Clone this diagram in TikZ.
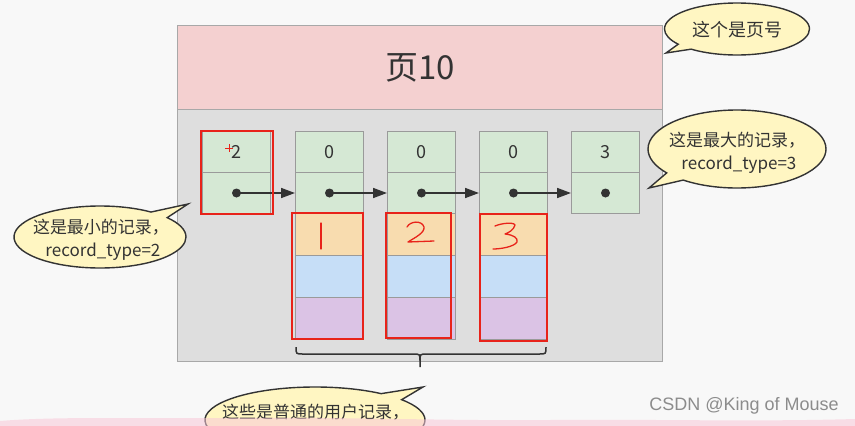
\documentclass[tikz,border=0pt]{standalone}
\usepackage{fontspec}
\setmainfont{Noto Sans CJK SC}
\newfontfamily\wmfont{Liberation Sans}
\usetikzlibrary{shapes.callouts,arrows.meta}
\definecolor{bg}{HTML}{F8F8F8}
\definecolor{hdr}{HTML}{F4D0D0}
\definecolor{body}{HTML}{DEDEDE}
\definecolor{frame}{HTML}{A8A8A8}
\definecolor{cellb}{HTML}{9A9A9A}
\definecolor{green}{HTML}{D5E8D4}
\definecolor{orange}{HTML}{F8DCAF}
\definecolor{blue}{HTML}{C6DEF7}
\definecolor{purple}{HTML}{DBC3E5}
\definecolor{txt}{HTML}{333333}
\definecolor{bub}{HTML}{FFF6C2}
\definecolor{mark}{HTML}{E8231A}
\definecolor{wash}{HTML}{F8C8D8}
\begin{document}
\begin{tikzpicture}[x=1pt,y=-1pt,
  cell/.style={draw=cellb, line width=1pt, minimum width=68pt, inner sep=0pt, anchor=north west, text=txt, font=\fontsize{18}{20}\selectfont},
  dotn/.style={circle, fill=txt, inner sep=0pt, minimum size=9pt},
  arr/.style={draw=txt, line width=1.6pt, -{Triangle[length=14pt,width=10pt]}},
  bubble/.style={ellipse callout, draw=txt, line width=1.4pt, fill=bub, inner sep=0pt},
  btext/.style={text=txt, align=center, inner sep=0pt, font=\fontsize{17}{23}\selectfont},
  redbox/.style={draw=mark, line width=1.5pt},
  hand/.style={draw=mark, line width=1.3pt, line cap=round, line join=round}]
\clip (0,0) rectangle (855,426);
\fill[bg] (0,0) rectangle (855,426);
% page
\node[draw=frame, line width=1pt, fill=body, minimum width=485pt, minimum height=252pt, anchor=north west, inner sep=0pt] (pagebody) at (177,109) {};
\node[draw=frame, line width=1pt, fill=hdr, minimum width=485pt, minimum height=84pt, anchor=north west, inner sep=0pt, text=txt, font=\fontsize{33}{38}\selectfont] (header) at (177,25) {页10};
% records
\foreach \i/\x/\v in {1/202/2,2/295/0,3/387/0,4/479/0,5/571/3}{
  \node[cell, fill=green, minimum height=41pt] (top\i) at (\x,131) {\v};
  \node[cell, fill=green, minimum height=41pt] (bot\i) at (\x,172) {};
  \node[dotn] (dot\i) at (bot\i.center) {};
}
\foreach \i/\x in {2/295,3/387,4/479}{
  \node[cell, fill=orange, minimum height=42pt] (ua\i) at (\x,213) {};
  \node[cell, fill=blue, minimum height=42pt] (ub\i) at (\x,255) {};
  \node[cell, fill=purple, minimum height=42pt] (uc\i) at (\x,297) {};
}
\draw[arr] (dot1.center) -- (bot2.west);
\draw[arr] (dot2.center) -- (bot3.west);
\draw[arr] (dot3.center) -- (bot4.west);
\draw[arr] (dot4.center) -- (bot5.west);
% red marks
\draw[redbox] (201,131) rectangle (273,214);
\draw[redbox] (292,213) rectangle (363,339);
\draw[redbox] (386,213) rectangle (451,338);
\draw[redbox] (480,214) rectangle (547,341);
\draw[draw=mark, line width=1pt] (225,148) -- (233,148) (229,144) -- (229,152);
\draw[hand] (321,223) -- (321,249);
\draw[hand] (407,227) .. controls (410,221) and (422,220) .. (424,227) .. controls (425,233) and (414,238) .. (408,242) -- (434,241);
\draw[hand] (495,226) .. controls (502,223) and (514,222) .. (515,225) .. controls (514,230) and (508,233) .. (505,234) .. controls (514,235) and (518,238) .. (517,242) .. controls (514,247) and (500,249) .. (493,249);
% brace
\draw[txt, line width=1.5pt] (296,347) .. controls (296,354) .. (303,354) -- (413,354) .. controls (420,354) .. (420,361) -- (420,367)
  (420,361) .. controls (420,354) .. (427,354) -- (539,354) .. controls (546,354) .. (546,347);
% callouts
\coordinate (tipA) at (666,53);
\coordinate (tipB) at (649,188);
\coordinate (tipC) at (188,204);
\coordinate (tipD) at (423,387);
\node[bubble, minimum width=145pt, minimum height=52pt, callout absolute pointer={(tipA)}] (pageno) at (737,29) {};
\node[btext, font=\fontsize{18}{20}\selectfont] (pagenot) at (737,30) {这个是页号};
\node[bubble, minimum width=178pt, minimum height=78pt, callout absolute pointer={(tipB)}] (maxrec) at (737,149) {};
\node[btext] (maxrect) at (737,153) {这是最大的记录，\\\ record\_type=3};
\node[bubble, minimum width=172pt, minimum height=62pt, callout absolute pointer={(tipC)}] (minrec) at (100,237) {};
\node[btext] (minrect) at (101,240) {这是最小的记录，\\\ record\_type=2};
\node[bubble, minimum width=220pt, minimum height=66pt, callout absolute pointer={(tipD)}] (userrec) at (315,420) {};
\node[btext, anchor=west] (userrect) at (222,412) {这些是普通的用户记录，};
% wash & watermark
\fill[wash, opacity=0.55] (0,426) -- (0,421) .. controls (60,416) and (150,419) .. (250,418) .. controls (350,417) and (450,421) .. (550,420) .. controls (650,419) and (750,422) .. (855,419) -- (855,426) -- cycle;
\node[text=black!45, font=\wmfont\fontsize{18}{20}\selectfont, inner sep=0pt] (wm) at (744,406) {CSDN @King of Mouse};
\end{tikzpicture}
\end{document}
